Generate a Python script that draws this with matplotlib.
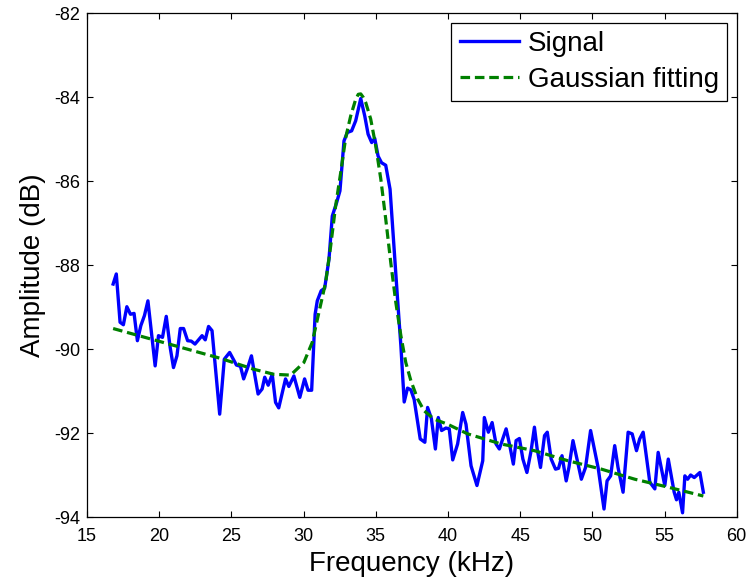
import matplotlib
matplotlib.use("Agg")
import matplotlib.pyplot as plt

# Signal (frequency in kHz, amplitude in dB)
sig_freq = [16.81, 17.03, 17.29, 17.52, 17.76, 18.01, 18.26, 18.49, 18.73, 18.98,
            19.22, 19.72, 19.95, 20.23, 20.49, 20.76, 20.99, 21.23, 21.46, 21.69,
            21.97, 22.22, 22.48, 22.73, 22.97, 23.19, 23.42, 23.66, 24.19, 24.51,
            24.88, 25.35, 25.63, 25.85, 26.13, 26.39, 26.85, 27.13, 27.31, 27.55,
            27.83, 28.06, 28.28, 28.75, 28.98, 29.33, 29.74, 30.07, 30.31, 30.56,
            30.80, 30.95, 31.22, 31.46, 31.76, 31.99, 32.29, 32.52, 32.80, 33.03,
            33.33, 33.61, 33.96, 34.24, 34.47, 34.72, 34.93, 35.16, 35.40, 35.69,
            35.99, 36.51, 36.74, 36.97, 37.20, 37.43, 37.66, 38.08, 38.40, 38.59,
            38.85, 39.13, 39.33, 39.56, 39.86, 40.09, 40.33, 40.67, 41.02, 41.25,
            41.60, 42.01, 42.41, 42.52, 42.80, 43.06, 43.33, 43.56, 44.03, 44.26,
            44.53, 44.72, 44.95, 45.19, 45.47, 45.76, 45.99, 46.18, 46.41, 46.69,
            46.88, 47.15, 47.45, 47.66, 47.90, 48.19, 48.38, 48.66, 49.01, 49.24,
            49.53, 49.88, 50.40, 50.81, 51.02, 51.27, 51.55, 51.78, 52.13, 52.48,
            52.76, 53.06, 53.28, 53.52, 53.98, 54.33, 54.56, 55.02, 55.26, 55.67,
            55.83, 55.99, 56.25, 56.41, 56.60, 56.81, 57.06, 57.45, 57.69]
sig_amp = [-88.45, -88.21, -89.36, -89.42, -88.99, -89.17, -89.15, -89.80, -89.44, -89.20,
           -88.85, -90.40, -89.68, -89.72, -89.22, -89.96, -90.44, -90.16, -89.51, -89.51,
           -89.80, -89.81, -89.88, -89.78, -89.68, -89.78, -89.46, -89.56, -91.55, -90.24,
           -90.08, -90.38, -90.41, -90.71, -90.44, -90.16, -91.07, -90.95, -90.67, -90.86,
           -90.60, -91.27, -91.40, -90.71, -90.89, -90.64, -91.15, -90.71, -90.98, -90.98,
           -89.17, -88.85, -88.61, -88.55, -87.86, -86.83, -86.51, -86.23, -85.04, -84.84,
           -84.80, -84.56, -84.03, -84.45, -84.88, -85.08, -84.98, -85.40, -85.56, -85.62,
           -86.19, -88.81, -89.92, -91.26, -90.93, -90.97, -91.20, -92.14, -92.22, -91.39,
           -91.65, -92.38, -91.63, -91.94, -91.88, -91.90, -92.64, -92.26, -91.51, -91.79,
           -92.78, -93.25, -92.66, -91.63, -91.98, -91.75, -92.26, -92.38, -91.90, -92.26,
           -92.74, -92.18, -92.13, -92.62, -92.94, -92.42, -91.86, -92.38, -92.82, -92.06,
           -91.98, -92.62, -92.86, -92.84, -92.54, -93.14, -92.82, -92.18, -92.74, -93.10,
           -92.82, -91.94, -92.82, -93.81, -93.14, -93.02, -92.30, -92.82, -93.41, -91.98,
           -92.02, -92.42, -92.14, -91.98, -93.17, -93.33, -92.46, -93.25, -92.62, -93.41,
           -93.59, -93.41, -93.90, -93.02, -93.10, -93.00, -93.06, -92.94, -93.41]

# Gaussian fitting curve
fit_freq = [16.81, 24.24, 26.55, 27.94, 29.10, 30.02, 30.60, 31.06, 31.53, 31.88,
            32.22, 32.57, 32.92, 33.26, 33.61, 33.79, 33.96, 34.13, 34.31, 34.65,
            35.00, 35.35, 35.69, 36.04, 36.39, 36.74, 37.08, 37.43, 37.90, 38.35,
            39.05, 39.98, 41.37, 43.68, 45.99, 48.31, 50.63, 52.94, 55.26, 57.69]
fit_amp = [-89.51, -90.22, -90.48, -90.60, -90.62, -90.32, -89.84, -89.13, -88.41, -87.54,
           -86.59, -85.80, -84.96, -84.45, -84.05, -83.93, -83.92, -84.00, -84.13, -84.52,
           -85.16, -85.95, -86.90, -87.94, -88.89, -89.68, -90.32, -90.75, -91.19, -91.47,
           -91.67, -91.79, -92.02, -92.26, -92.42, -92.66, -92.86, -93.10, -93.29, -93.50]

x_ticks = [15, 20, 25, 30, 35, 40, 45, 50, 55, 60]
y_ticks = [-94, -92, -90, -88, -86, -84, -82]

plt.rcParams['font.family'] = ['Liberation Sans', 'DejaVu Sans']

fig = plt.figure(figsize=(7.49, 5.85), dpi=100)
ax = fig.add_axes([87 / 749, 1 - 517 / 585, 649.7 / 749, 503.7 / 585])

ax.plot(sig_freq, sig_amp, color='#0000ff', lw=2.4, label='Signal')
ax.plot(fit_freq, fit_amp, color='#008000', lw=2.3, ls=(0, (3.0, 1.5)),
        label='Gaussian fitting')

ax.set_xlim(15, 60)
ax.set_ylim(-94, -82)
ax.set_xticks(x_ticks)
ax.set_yticks(y_ticks)
ax.set_xticklabels([str(v) for v in x_ticks])
ax.set_yticklabels([str(v) for v in y_ticks])
ax.tick_params(direction='in', top=True, right=True, length=4, width=0.8,
               labelsize=13, colors='black')
ax.tick_params(axis='x', pad=8)
ax.tick_params(axis='y', pad=5)
for s in ax.spines.values():
    s.set_linewidth(0.9)
    s.set_color('black')

ax.set_xlabel('Frequency (kHz)', fontsize=20, labelpad=4)
ax.set_ylabel('Amplitude (dB)', fontsize=20, labelpad=6)

leg = ax.legend(loc='upper right', bbox_to_anchor=(0.9855, 0.9813),
                borderaxespad=0, fontsize=20, fancybox=False, framealpha=1,
                edgecolor='black', handlelength=2.15, handletextpad=0.3,
                labelspacing=0.35, borderpad=0.3)
leg.get_frame().set_linewidth(0.9)

fig.savefig('out.png', dpi=100)
